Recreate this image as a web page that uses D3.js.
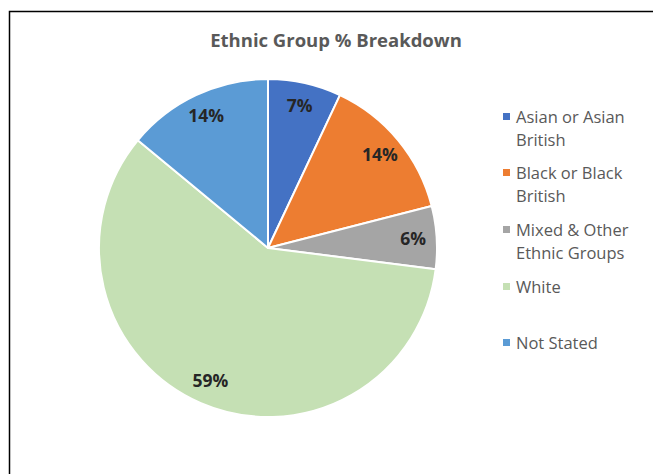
<html>
  <head>
    <meta charset="utf-8" />
    <title>Ethnic Group % Breakdown</title>
    <script src="https://cdn.jsdelivr.net/npm/d3@7"></script>
  </head>
  <style>
    html,
    body {
      margin: 0;
      padding: 0;
      background: #fff;
    }
    body {
      font-family: "Open Sans", sans-serif;
    }
  </style>
  <body>
    <svg width="653" height="474" id="mainsvg"></svg>
    <script>
      // data
      const groups = [
        "Asian or Asian British",
        "Black or Black British",
        "Mixed & Other Ethnic Groups",
        "White",
        "Not Stated",
      ];
      const shares = [7, 14, 6, 59, 14];
      const legendLines = [
        ["Asian or Asian", "British"],
        ["Black or Black", "British"],
        ["Mixed & Other", "Ethnic Groups"],
        ["White"],
        ["Not Stated"],
      ];
      const colors = ["#4472C4", "#ED7D31", "#A5A5A5", "#C5E0B4", "#5B9BD5"];

      const svg = d3.select("#mainsvg");
      const cx = 268, cy = 248, radius = 169;

      // chart frame
      svg.append("rect")
        .attr("x", 9.5).attr("y", 11.5)
        .attr("width", 700).attr("height", 500)
        .attr("fill", "#fff").attr("stroke", "#000").attr("stroke-width", 1.5);

      svg.append("text")
        .attr("x", 336).attr("y", 47)
        .attr("text-anchor", "middle")
        .attr("font-size", 18.5).attr("font-weight", 700)
        .attr("fill", "#595959")
        .text("Ethnic Group % Breakdown");

      const data = groups.map((g, i) => ({ name: g, value: shares[i], color: colors[i] }));
      const pie = d3.pie().value(d => d.value).sort(null);
      const arcs = pie(data);
      const arc = d3.arc().innerRadius(0).outerRadius(radius);
      const labelArc = d3.arc().innerRadius(radius * 0.86).outerRadius(radius * 0.86);

      const g = svg.append("g").attr("transform", `translate(${cx}, ${cy})`);
      g.selectAll(".slice")
        .data(arcs)
        .join("path")
        .attr("class", "slice")
        .attr("d", arc)
        .attr("fill", d => d.data.color)
        .attr("stroke", "#fff")
        .attr("stroke-width", 2)
        .attr("stroke-linejoin", "round");

      g.selectAll(".lbl")
        .data(arcs)
        .join("text")
        .attr("class", "lbl")
        .attr("transform", d => `translate(${labelArc.centroid(d)})`)
        .attr("text-anchor", "middle")
        .attr("dy", "0.33em")
        .attr("font-size", 17.5).attr("font-weight", 700)
        .attr("fill", "#262626")
        .text(d => d.data.value + "%");

      // legend
      const legendY = [117, 173, 230, 287, 343];
      const leg = svg.append("g");
      const items = leg.selectAll(".item")
        .data(data)
        .join("g")
        .attr("class", "item")
        .attr("transform", (d, i) => `translate(503, ${legendY[i]})`);
      items.append("rect")
        .attr("x", 0).attr("y", -4)
        .attr("width", 7).attr("height", 7)
        .attr("fill", d => d.color);
      items.append("text")
        .attr("x", 13)
        .attr("font-size", 16.5)
        .attr("fill", "#595959")
        .selectAll("tspan")
        .data((d, i) => legendLines[i])
        .join("tspan")
        .attr("x", 13)
        .attr("y", (t, j) => j * 23)
        .attr("dy", "0.35em")
        .text(t => t);
    </script>
  </body>
</html>
